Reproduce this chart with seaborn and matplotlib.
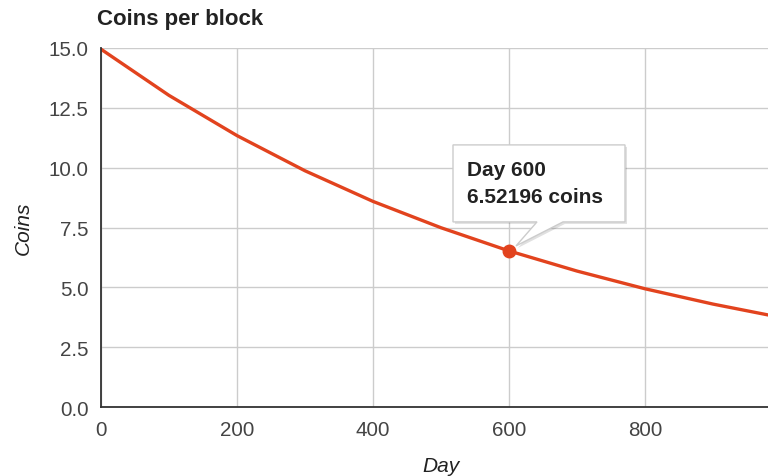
import matplotlib
matplotlib.use("Agg")
import matplotlib.pyplot as plt
import matplotlib.transforms as mtransforms
from matplotlib.patches import Polygon
import pandas as pd
import seaborn as sns

# ---- data ----
days = [0, 100, 200, 300, 400, 500, 600, 700, 800, 900, 1000]
coins = [14.95, 13.02, 11.34, 9.87, 8.59, 7.49, 6.52196, 5.68, 4.94, 4.30, 3.74]
x_ticks = [0, 200, 400, 600, 800]
y_ticks = [0.0, 2.5, 5.0, 7.5, 10.0, 12.5, 15.0]
title = "Coins per block"
x_label = "Day"
y_label = "Coins"
hl_day = 600
hl_value = 6.52196
tip_lines = ["Day 600", "6.52196 coins"]

LINE = "#e2431e"
TXT = "#222222"
TICK = "#444444"
GRID = "#cccccc"

sns.set_style("white")
plt.rcParams["font.family"] = ["Liberation Sans", "DejaVu Sans"]

fig = plt.figure(figsize=(7.68, 4.77), dpi=100)
# chart area extends past the right edge of the (cropped) image
ax = fig.add_axes([101 / 768, 1 - 408 / 477, 680 / 768, (408 - 49) / 477])

df = pd.DataFrame({"Day": days, "Coins": coins})
sns.lineplot(data=df, x="Day", y="Coins", ax=ax, color=LINE, linewidth=2.4, zorder=3)

ax.set_xlim(0, 1000)
ax.set_ylim(0, 15)
ax.set_xticks(x_ticks)
ax.set_yticks(y_ticks)
ax.set_xticklabels([str(t) for t in x_ticks])
ax.set_yticklabels([f"{t:.1f}" for t in y_ticks])
ax.tick_params(axis="both", length=0, labelsize=14.8, colors=TICK)
ax.tick_params(axis="y", pad=9)
ax.tick_params(axis="x", pad=9)

ax.grid(True, color=GRID, linewidth=1.0)
ax.set_axisbelow(True)
for s in ["top", "right"]:
    ax.spines[s].set_visible(False)
ax.spines["left"].set_color("#333333")
ax.spines["bottom"].set_color("#333333")
ax.spines["left"].set_linewidth(1.3)
ax.spines["bottom"].set_linewidth(1.3)
ax.spines["left"].set_zorder(4)
ax.spines["bottom"].set_zorder(4)

ax.set_xlabel(x_label, fontsize=15, fontstyle="italic", color=TXT)
ax.set_ylabel(y_label, fontsize=15, fontstyle="italic", color=TXT)
ax.xaxis.set_label_coords(0.5, (408 - 466) / 359)
ax.yaxis.set_label_coords((23 - 101) / 680, (408 - 228) / 359)
ax.xaxis.label.set_verticalalignment("center")
ax.yaxis.label.set_verticalalignment("center")

fig.text(97 / 768, 1 - 20 / 477, title, fontsize=16, fontweight="bold",
         color=TXT, ha="left", va="center")

# highlighted point
ax.plot([hl_day], [hl_value], marker="o", markersize=9, color=LINE, zorder=5,
        clip_on=False)

# tooltip (pixel offsets relative to the highlighted point, y downwards)
base = mtransforms.Affine2D().scale(1, -1) + mtransforms.ScaledTranslation(
    hl_day, hl_value, ax.transData)
verts = [(-56, -106), (116, -106), (116, -29), (54, -29), (7, -5), (28, -29), (-56, -29)]
shadow = Polygon([(x + 2, y + 2) for x, y in verts], closed=True,
                 transform=base, facecolor="#000000", alpha=0.12,
                 edgecolor="none", zorder=6)
box = Polygon(verts, closed=True, transform=base, facecolor="white",
              edgecolor="#cccccc", linewidth=1.0, zorder=7)
ax.add_patch(shadow)
ax.add_patch(box)
shadow.set_clip_on(False)
box.set_clip_on(False)
ax.text(-42, -81, tip_lines[0], transform=base, fontsize=15, fontweight="bold",
        color=TXT, ha="left", va="center", zorder=8)
ax.text(-42, -54, tip_lines[1], transform=base, fontsize=15, fontweight="bold",
        color=TXT, ha="left", va="center", zorder=8)

fig.savefig("out.png", dpi=100)
